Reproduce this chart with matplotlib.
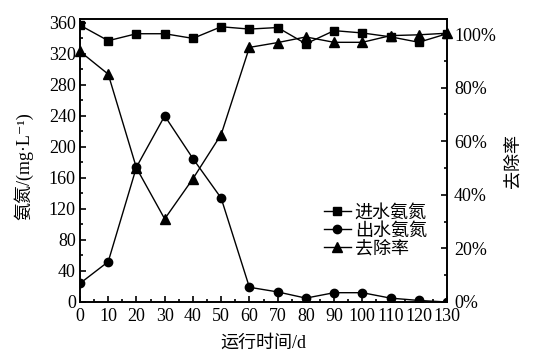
import matplotlib
matplotlib.use("Agg")
import matplotlib.pyplot as plt
from matplotlib.ticker import MultipleLocator, FuncFormatter

plt.rcParams['font.family'] = ['Liberation Serif', 'Noto Sans CJK SC', 'DejaVu Sans']

days = [0, 10, 20, 30, 40, 50, 60, 70, 80, 90, 100, 110, 120, 130]
influent = [357, 337, 346, 346, 340, 355, 352, 354, 333, 350, 347, 342, 335, 346]
effluent = [24, 52, 174, 240, 185, 134, 19, 13, 5, 12, 12, 5, 2, 0]
removal = [93.5, 85, 50, 31, 46, 62.5, 95, 96.8, 98.9, 96.9, 96.9, 99.4, 99.7, 100.3]

names = ['进水氨氮', '出水氨氮', '去除率']

fig = plt.figure(figsize=(5.37, 3.62), dpi=100)
ax = fig.add_axes([80/537, 1-302/362, (447-80)/537, (302-19)/362])
ax2 = ax.twinx()

l1, = ax.plot(days, influent, '-s', color='black', lw=1.0, ms=5.5)
l2, = ax.plot(days, effluent, '-o', color='black', lw=1.0, ms=6)
l3, = ax2.plot(days, removal, '-^', color='black', lw=1.0, ms=6.5, clip_on=False)

ax.set_xlim(0, 130)
ax.set_ylim(0, 365)
ax2.set_ylim(0, 105.6)

ax.xaxis.set_major_locator(MultipleLocator(10))
ax.xaxis.set_minor_locator(MultipleLocator(5))
ax.yaxis.set_major_locator(MultipleLocator(40))
ax.yaxis.set_minor_locator(MultipleLocator(20))
ax2.yaxis.set_major_locator(MultipleLocator(20))
ax2.yaxis.set_minor_locator(MultipleLocator(10))
ax2.yaxis.set_major_formatter(FuncFormatter(lambda v, p: f"{v:.0f}%"))

for a in (ax, ax2):
    a.tick_params(which='major', direction='in', length=4, width=1.2, labelsize=13)
    a.tick_params(which='minor', direction='in', length=2, width=1.2)
ax.tick_params(axis='x', pad=4)
ax.tick_params(axis='y', pad=3)
ax2.tick_params(axis='y', pad=5)
ax.tick_params(top=False, which='both')
for a in (ax, ax2):
    for s in a.spines.values():
        s.set_linewidth(1.2)

ax.set_xlabel('运行时间/d', fontsize=13, labelpad=7)
ax.set_ylabel('氨氮/(mg·L⁻¹)', fontsize=13)
ax.yaxis.set_label_coords(-0.128, 0.48)
ax2.set_ylabel('去除率', fontsize=13, rotation=90, labelpad=6)

ax.legend([l1, l2, l3], names, loc='upper left', bbox_to_anchor=(0.645, 0.37),
          frameon=False, fontsize=13, handlelength=1.5, handletextpad=0.2,
          labelspacing=0.05, borderaxespad=0)

fig.savefig('out.png', dpi=100)
